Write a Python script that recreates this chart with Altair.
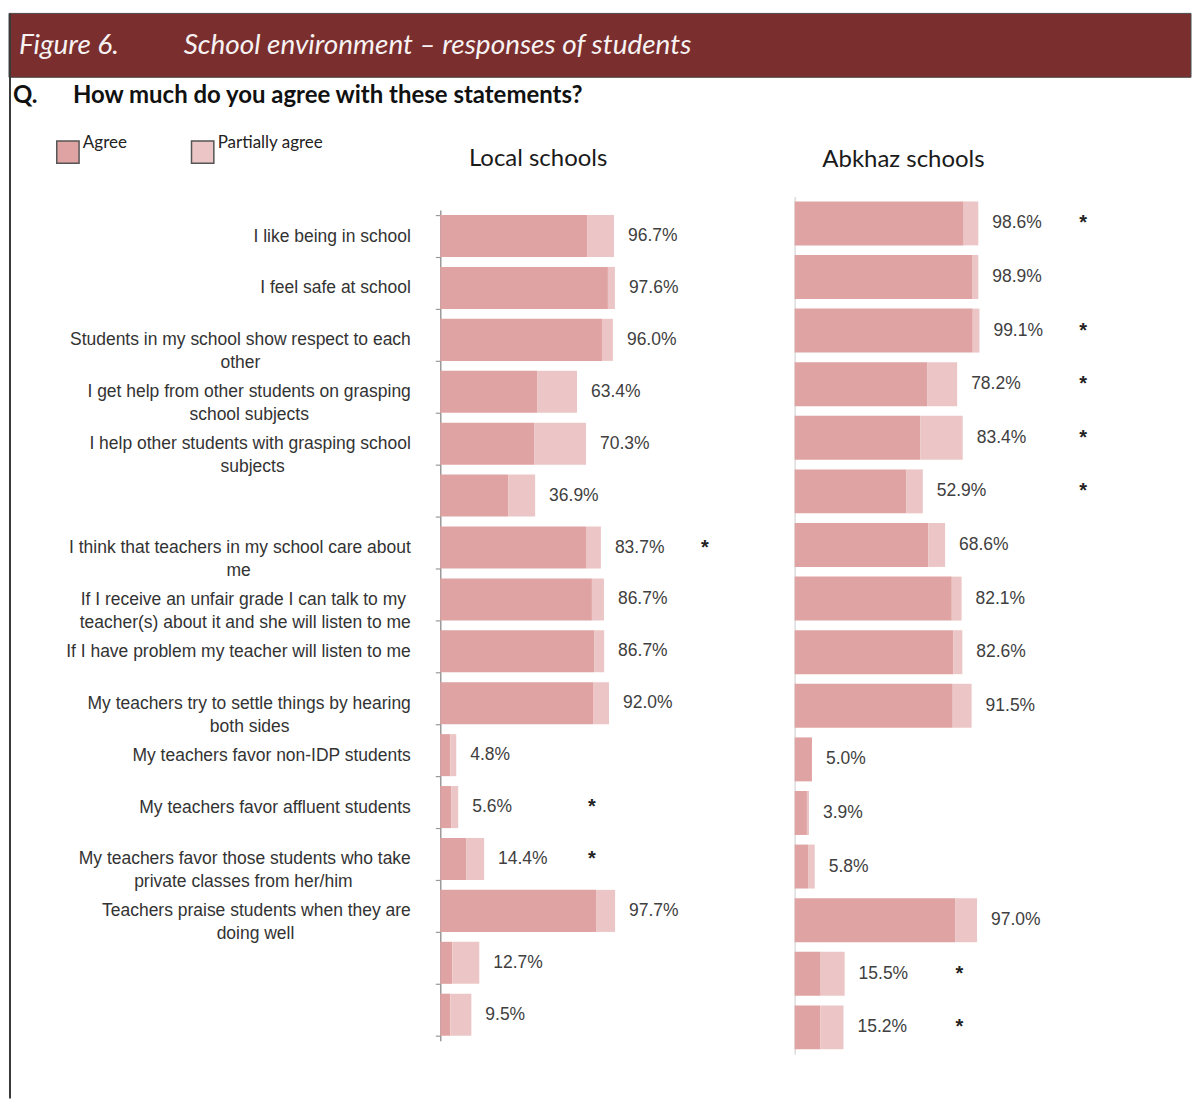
import json
import altair as alt
import pandas as pd

# ---------------- data ----------------
rows = list(range(1, 17))
statements = [
    ["I like being in school"],
    ["I feel safe at school"],
    ["Students in my school show respect to each", "other"],
    ["I get help from other students on grasping", "school subjects"],
    ["I help other students with grasping school", "subjects"],
    [""],
    ["I think that teachers in my school care about", "me"],
    ["If I receive an unfair grade I can talk to my", "teacher(s) about it and she will listen to me"],
    ["If I have problem my teacher will listen to me"],
    ["My teachers try to settle things by hearing", "both sides"],
    ["My teachers favor non-IDP students"],
    ["My teachers favor affluent students"],
    ["My teachers favor those students who take", "private classes from her/him"],
    ["Teachers praise students when they are", "doing well"],
    [""],
    [""],
]
responses = ["Agree", "Partially agree"]

local_agree = [81.7, 93.3, 90.0, 53.9, 52.2, 37.8, 81.1, 84.4, 85.6, 85.0, 5.6, 6.1, 14.4, 86.7, 6.7, 5.6]
local_partial = [15.0, 3.9, 6.1, 22.2, 28.9, 15.0, 8.3, 6.7, 5.6, 8.9, 3.3, 3.9, 10.0, 10.6, 15.0, 11.7]
local_labels = [96.7, 97.6, 96.0, 63.4, 70.3, 36.9, 83.7, 86.7, 86.7, 92.0, 4.8, 5.6, 14.4, 97.7, 12.7, 9.5]
local_star = [None, None, None, None, None, None, 147.2, None, None, None, None, 84.4, 84.4, None, None, None]

abk_agree = [91.0, 95.5, 95.9, 71.3, 67.7, 60.0, 72.0, 84.6, 85.5, 85.1, 9.3, 6.6, 7.2, 86.4, 14.0, 13.8]
abk_partial = [7.9, 3.4, 3.6, 16.2, 22.8, 9.0, 9.0, 5.3, 4.8, 10.2, 0.0, 1.1, 3.6, 11.8, 12.9, 12.5]
abk_labels = [98.6, 98.9, 99.1, 78.2, 83.4, 52.9, 68.6, 82.1, 82.6, 91.5, 5.0, 3.9, 5.8, 97.0, 15.5, 15.2]
abk_star = [155.4, None, 155.4, 155.4, 155.4, 155.4, None, None, None, None, None, None, None, None, 88.7, 88.7]

# ---------------- styles ----------------
AGREE_C = "#E0A3A3"
PART_C = "#ECC6C6"
BANNER_C = "#7A2E2E"
BODY = "Liberation Sans, Arial, sans-serif"
HEAD = "Lato, Open Sans, sans-serif"

# approximate Arial/Liberation Sans advance widths (per 1000 em) -- used only to
# centre the second line of a wrapped label under its first line (as in the source)
_W = {" ": 278, "(": 333, ")": 333, "-": 333, ".": 278, "/": 278,
      "a": 556, "b": 556, "c": 500, "d": 556, "e": 556, "f": 278, "g": 556, "h": 556,
      "i": 222, "j": 222, "k": 500, "l": 222, "m": 833, "n": 556, "o": 556, "p": 556,
      "q": 556, "r": 333, "s": 500, "t": 278, "u": 556, "v": 500, "w": 722, "x": 500,
      "y": 500, "z": 500, "I": 278, "M": 833, "S": 667, "T": 611, "D": 722, "P": 667}


def _width(s):
    return sum(_W.get(c, 556) for c in s)


def centred(lines):
    # right-aligned labels: pad the shorter lines with no-break spaces (closed by a
    # zero-width space so they are not trimmed) so that each line sits centred
    if len(lines) < 2:
        return lines
    wmax = max(_width(l) for l in lines)
    out = []
    for l in lines:
        n = int(round((wmax - _width(l)) / 2 / 278))
        out.append(l + "\u00a0" * n + ("\u200b" if n else ""))
    return out


label_lines = [centred(l) for l in statements]


def frames(agree, partial, labels, stars):
    bars = pd.DataFrame(
        [dict(row=r, resp=responses[0], value=a) for r, a in zip(rows, agree)]
        + [dict(row=r, resp=responses[1], value=p) for r, p in zip(rows, partial)]
    )
    lab = pd.DataFrame(dict(row=rows,
                            total=[a + p for a, p in zip(agree, partial)],
                            text=[f"{v:.1f}%" for v in labels]))
    st = pd.DataFrame(dict(row=[r for r, s in zip(rows, stars) if s is not None],
                           pos=[s for s in stars if s is not None]))
    return bars, lab, st


def panel(agree, partial, labels, stars, xmax, pad_in, pad_out, yaxis):
    bars, lab, st = frames(agree, partial, labels, stars)
    xs = alt.Scale(domain=[0, xmax], nice=False, zero=True)
    ys = alt.Scale(paddingInner=pad_in, paddingOuter=pad_out)
    color = alt.Color(
        "resp:N",
        scale=alt.Scale(domain=responses, range=[AGREE_C, PART_C]),
        legend=alt.Legend(
            title=None, orient="none", legendX=-385, legendY=-57,
            direction="horizontal", symbolType="square", symbolSize=500,
            symbolStrokeColor="#555", symbolStrokeWidth=1.5, symbolOpacity=1,
            labelFont=HEAD, labelFontSize=17, labelColor="#222",
            labelBaseline="bottom", labelOffset=3, columnPadding=60, padding=0,
        ),
    )
    b = alt.Chart(bars).mark_bar().encode(
        x=alt.X("value:Q", stack="zero", scale=xs, axis=None),
        y=alt.Y("row:O", scale=ys, axis=yaxis),
        color=color,
        order=alt.Order("resp:N"),
    )
    t = alt.Chart(lab).mark_text(align="left", baseline="middle", dx=14,
                                 font=BODY, fontSize=17.5, color="#404040").encode(
        x=alt.X("total:Q", scale=xs), y=alt.Y("row:O", scale=ys), text="text:N")
    s = alt.Chart(st).mark_text(align="center", baseline="middle", dy=0,
                                font=BODY, fontSize=20,
                                fontWeight="bold", color="#222").encode(
        x=alt.X("pos:Q", scale=xs), y=alt.Y("row:O", scale=ys), text=alt.value("*"))
    return b, t, s


local_axis = alt.Axis(
    title=None, ticks=True, tickBand="extent", tickSize=5, tickColor="#9a9a9a", tickWidth=1.2,
    labelPadding=25, domainColor="#9a9a9a", domainWidth=1.5,
    labelExpr=json.dumps(label_lines) + "[datum.value - 1]",
    labelAlign="right", labelBaseline="middle", labelFont=BODY, labelFontSize=17.5,
    labelColor="#333", labelLineHeight=23, labelLimit=460,
)
abk_axis = alt.Axis(title=None, ticks=False, labels=False, domainColor="#dddddd", domainWidth=1.5)

lb, lt, ls = panel(local_agree, local_partial, local_labels, local_star,
                   108.9, 0.19, 0.095, local_axis)
ab, at, as_ = panel(abk_agree, abk_partial, abk_labels, abk_star,
                    117.2, 0.18, 0.09, abk_axis)

one = pd.DataFrame({"k": [0]})


def note(text, x, y, **kw):
    return alt.Chart(one).mark_text(baseline="alphabetic", **kw).encode(
        x=alt.value(x), y=alt.value(y), text=alt.value(text))


banner = alt.Chart(one).mark_rect(color=BANNER_C, stroke="#4a4a4a", strokeWidth=1).encode(
    x=alt.value(-432), x2=alt.value(752), y=alt.value(-197), y2=alt.value(-133))
fig_txt = note("Figure 6.", -422, -156, align="left", font=HEAD, fontStyle="italic",
               fontSize=28, color="#f7f2f2")
fig_title = note("School environment \u2013 responses of students", -257, -156, align="left",
                 font=HEAD, fontStyle="italic", fontSize=28, color="#f7f2f2")
q1 = note("Q.", -428, -107, align="left", font=HEAD, fontWeight="bold", fontSize=24, color="#111")
q2 = note("How much do you agree with these statements?", -368, -107, align="left",
          font=HEAD, fontWeight="bold", fontSize=24, color="#111")
border = alt.Chart(one).mark_rule(color="#3a3a3a", strokeWidth=2).encode(
    x=alt.value(-431), y=alt.value(-197), y2=alt.value(890))
ltitle = note("Local schools", 98, -44, align="center", font=HEAD, fontSize=24, color="#1a1a1a")
atitle = note("Abkhaz schools", 109, -30, align="center", font=HEAD, fontSize=24, color="#1a1a1a")

local = alt.layer(lb, lt, ls, banner, fig_txt, fig_title, q1, q2, border, ltitle).properties(
    width=196, height=832)
abk = alt.layer(ab, at, as_, atitle).properties(width=218, height=859)

chart = alt.hconcat(local, abk, spacing=159, bounds="flush", center=True).resolve_scale(
    x="independent", y="independent", color="shared"
).resolve_legend(color="shared").properties(
    padding={"left": 0, "top": 3, "right": 0, "bottom": 0}, background="white"
).configure_view(stroke="transparent")

chart.save("out.html", embed_options={"renderer": "svg", "actions": False})
